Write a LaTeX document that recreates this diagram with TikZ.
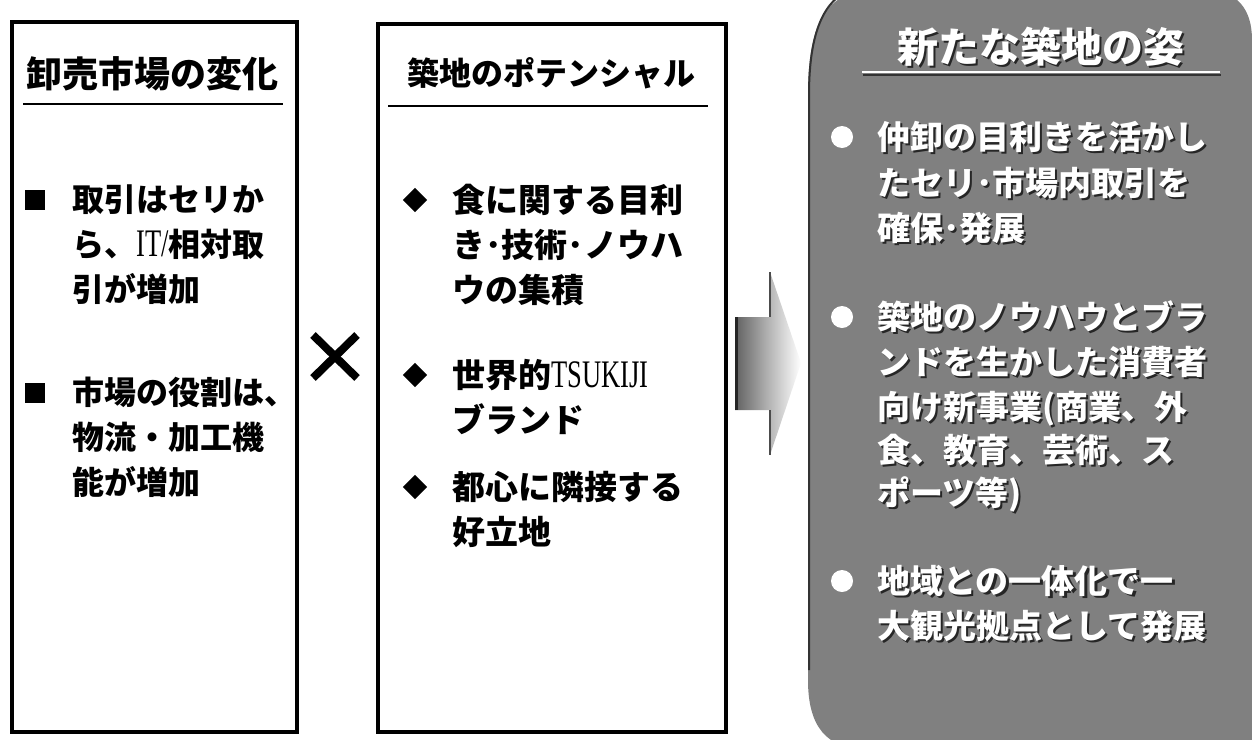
\documentclass[tikz,border=0pt]{standalone}
\usepackage{fontspec}
\usepackage{graphicx}
\newfontfamily\jp{Noto Sans CJK JP}
\newfontfamily\lser{Liberation Serif}
\newcommand\lat[1]{{\lser\mdseries\fontsize{39}{39}\selectfont\scalebox{0.68}[1]{#1}}}
\newcommand\emb[1]{\leavevmode\rlap{\kern2.2pt\raisebox{-2.2pt}{\textcolor{black!85}{#1}}}\textcolor{white}{#1}}
\begin{document}
\begin{tikzpicture}[x=1pt,y=-1pt,
  box/.style={draw=black,line width=3.5pt,fill=white,inner sep=0pt},
  headl/.style={font=\jp\bfseries\fontsize{36}{36}\selectfont,inner sep=0pt},
  headm/.style={font=\jp\bfseries\fontsize{32}{32}\selectfont,inner sep=0pt},
  headr/.style={font=\jp\bfseries\fontsize{41}{41}\selectfont,inner sep=0pt},
  txtl/.style={font=\jp\bfseries\fontsize{32}{32}\selectfont,anchor=west,inner sep=0pt,text height=27.5pt,text depth=3.8pt},
  txtm/.style={font=\jp\bfseries\fontsize{33}{33}\selectfont,anchor=west,inner sep=0pt,text height=28.4pt,text depth=4pt},
  txtr/.style={font=\jp\bfseries\fontsize{33}{33}\selectfont,anchor=west,inner sep=0pt,text height=28.4pt,text depth=4pt},
  sqbul/.style={fill=black,minimum size=20pt,inner sep=0pt},
  dmbul/.style={fill=black,minimum size=17pt,inner sep=0pt,rotate=45},
  wbul/.style={circle,fill=white,minimum size=22pt,inner sep=0pt},
  rule/.style={line width=2pt}
]
\useasboundingbox (0,0) rectangle (1252,739);
\fill[white] (0,0) rectangle (1252,739);

% left box
\node[box,minimum width=285pt,minimum height=710pt,anchor=north west] (lbox) at (10,20) {};
\node[headl] (lhead) at (152,74) {卸売市場の変化};
\draw[rule] (23,104) -- (283,104);
\node[sqbul] (lb1) at (35,200) {};
\node[txtl] (l1a) at (72,200) {取引はセリか};
\node[txtl] (l1b) at (72,245) {ら、\lat{IT/}相対取};
\node[txtl] (l1c) at (72,290) {引が増加};
\node[sqbul] (lb2) at (35,393) {};
\node[txtl] (l2a) at (72,393) {市場の役割は、};
\node[txtl] (l2b) at (72,438) {物流・加工機};
\node[txtl] (l2c) at (72,483) {能が増加};

% times sign
\draw[line width=8pt] (313,335) -- (357,378);
\draw[line width=8pt] (357,335) -- (313,378);

% middle box
\node[box,minimum width=348pt,minimum height=708pt,anchor=north west] (mbox) at (376,22) {};
\node[headm] (mhead) at (551,73) {築地のポテンシャル};
\draw[rule] (388,106) -- (708,106);
\node[dmbul] (mb1) at (415,200) {};
\node[txtm] (m1a) at (452,200) {食に関する目利};
\node[txtm] (m1b) at (452,245) {き･技術･ノウハ};
\node[txtm] (m1c) at (452,290) {ウの集積};
\node[dmbul] (mb2) at (415,375) {};
\node[txtm] (m2a) at (452,375) {世界的\lat{TSUKIJI}};
\node[txtm] (m2b) at (452,420) {ブランド};
\node[dmbul] (mb3) at (415,487) {};
\node[txtm] (m3a) at (452,487) {都心に隣接する};
\node[txtm] (m3b) at (452,532) {好立地};

% arrow
\shade[left color=black!62,right color=white,middle color=black!30]
  (735,317) -- (770,317) -- (770,272) -- (801,363) -- (770,455) -- (770,410) -- (735,410) -- cycle;
\draw[line width=2.5pt,black!85] (736.5,317) -- (736.5,410);
\draw[line width=1.2pt,black!70] (770,272) -- (770,317);
\draw[line width=1.2pt,black!70] (770,410) -- (770,455);

% right panel
\fill[black!50] (808,95) .. controls (808,25) and (825,-10) .. (875,-10)
  -- (1205,-10) .. controls (1238,-10) and (1252,10) .. (1252,40)
  -- (1252,750) -- (870,750) .. controls (825,750) and (808,725) .. (808,680) -- cycle;
\draw[black!80,line width=2pt] (809,670) -- (809,95) .. controls (809,30) and (825,0) .. (850,-10);
\node[headr] (rhead) at (1041,48) {\emb{新たな築地の姿}};
\draw[rule,black!80] (863,74.5) -- (1221,74.5);
\draw[rule,white] (862,72) -- (1220,72);
\node[wbul] (rb1) at (842,137) {};
\node[txtr] (r1a) at (877,137) {\emb{仲卸の目利きを活かし}};
\node[txtr] (r1b) at (877,183) {\emb{たセリ･市場内取引を}};
\node[txtr] (r1c) at (877,228) {\emb{確保･発展}};
\node[wbul] (rb2) at (842,317) {};
\node[txtr] (r2a) at (877,317) {\emb{築地のノウハウとブラ}};
\node[txtr] (r2b) at (877,362) {\emb{ンドを生かした消費者}};
\node[txtr] (r2c) at (877,407) {\emb{向け新事業(商業、外}};
\node[txtr] (r2d) at (877,450) {\emb{食、教育、芸術、ス}};
\node[txtr] (r2e) at (877,493) {\emb{ポーツ等)}};
\node[wbul] (rb3) at (842,581) {};
\node[txtr] (r3a) at (877,581) {\emb{地域との一体化で一}};
\node[txtr] (r3b) at (877,626) {\emb{大観光拠点として発展}};
\end{tikzpicture}
\end{document}
